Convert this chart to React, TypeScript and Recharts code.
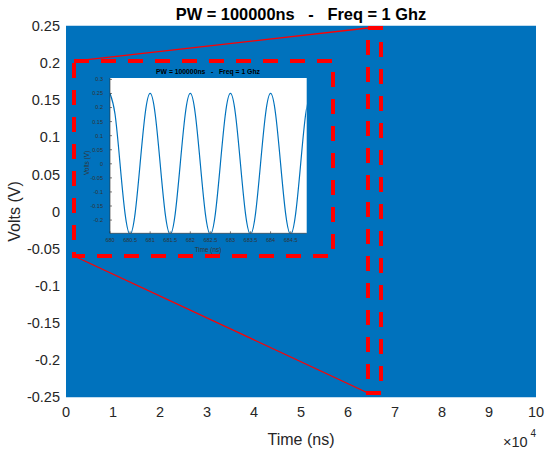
import React from 'react';
import {
  ComposedChart,
  Area,
  Line,
  XAxis,
  YAxis,
  ReferenceArea,
  ReferenceLine,
  CartesianGrid,
} from 'recharts';

// ---------- main chart data ----------
const mainTime = [0, 100000];
const mainLow = [-0.25, -0.25];
const mainHigh = [0.25, 0.25];
const mainXTicks = [0, 10000, 20000, 30000, 40000, 50000, 60000, 70000, 80000, 90000, 100000];
const mainYTicks = [-0.25, -0.2, -0.15, -0.1, -0.05, 0, 0.05, 0.1, 0.15, 0.2, 0.25];

// zoom annotation (data coordinates of main chart)
const sourceBoxX = [64255, 67021];
const sourceBoxY = [-0.2446, 0.2473];
const insetBoxX = [1702, 56809];
const insetBoxY = [-0.06, 0.2028];

// ---------- inset data ----------
const insetTime = [
  680, 680.125, 680.25, 680.375, 680.5, 680.625, 680.75, 680.875,
  681, 681.125, 681.25, 681.375, 681.5, 681.625, 681.75, 681.875,
  682, 682.125, 682.25, 682.375, 682.5, 682.625, 682.75, 682.875,
  683, 683.125, 683.25, 683.375, 683.5, 683.625, 683.75, 683.875,
  684, 684.125, 684.25, 684.375, 684.5, 684.625, 684.75, 684.875,
  685,
];
const insetVolts = [
  0.25, 0.177, 0, -0.177, -0.25, -0.177, 0, 0.177,
  0.25, 0.177, 0, -0.177, -0.25, -0.177, 0, 0.177,
  0.25, 0.177, 0, -0.177, -0.25, -0.177, 0, 0.177,
  0.25, 0.177, 0, -0.177, -0.25, -0.177, 0, 0.177,
  0.25, 0.177, 0, -0.177, -0.25, -0.177, 0, 0.177,
  0.25,
];
const insetXTicks = [680, 680.5, 681, 681.5, 682, 682.5, 683, 683.5, 684, 684.5];
const insetYTicks = [-0.2, -0.15, -0.1, -0.05, 0, 0.05, 0.1, 0.15, 0.2, 0.25, 0.3];

const titleText = 'PW = 100000ns   -   Freq = 1 Ghz';

const mainData = mainTime.map((t, i) => ({ t, band: [mainLow[i], mainHigh[i]] }));
const insetData = insetTime.map((t, i) => ({ t, v: insetVolts[i] }));

const FONT = '"Liberation Sans", Arial, Helvetica, sans-serif';
const BLUE = '#0072BD';
const RED = '#FF0000';
const AX = '#262626';

export default function App() {
  return (
    <div style={{ position: 'absolute', left: 0, top: 0, width: 545, height: 451, background: '#fff', fontFamily: FONT }}>
      <div style={{ position: 'absolute', left: 0, top: 0 }}>
        <ComposedChart width={545} height={451} data={mainData} margin={{ top: 26, right: 9, left: 0, bottom: 0 }}>
          <XAxis
            dataKey="t"
            type="number"
            domain={[0, 100000]}
            ticks={mainXTicks}
            interval={0}
            tickFormatter={(v: number) => String(v / 10000)}
            axisLine={false}
            tickLine={false}
            tickSize={0}
            tickMargin={10}
            height={54}
            tick={{ fontSize: 14.5, fill: AX, fontFamily: FONT }}
          />
          <YAxis
            type="number"
            domain={[-0.25, 0.25]}
            ticks={mainYTicks}
            interval={0}
            tickFormatter={(v: number) => String(Math.round(v * 100) / 100)}
            axisLine={false}
            tickLine={false}
            tickSize={0}
            tickMargin={6}
            width={66}
            tick={{ fontSize: 14.5, fill: AX, fontFamily: FONT }}
          />
          <Area
            dataKey="band"
            type="linear"
            stroke={BLUE}
            strokeWidth={0.5}
            fill={BLUE}
            fillOpacity={1}
            isAnimationActive={false}
            dot={false}
            activeDot={false}
          />
          <ReferenceArea
            x1={insetBoxX[0]}
            x2={insetBoxX[1]}
            y1={insetBoxY[0]}
            y2={insetBoxY[1]}
            fill="none"
            fillOpacity={0}
            stroke={RED}
            strokeWidth={4}
            strokeDasharray="15 12"
          />
          <ReferenceArea
            x1={sourceBoxX[0]}
            x2={sourceBoxX[1]}
            y1={sourceBoxY[0]}
            y2={sourceBoxY[1]}
            fill="none"
            fillOpacity={0}
            stroke={RED}
            strokeWidth={4}
            strokeDasharray="15 12"
          />
          <ReferenceLine
            segment={[
              { x: insetBoxX[0], y: insetBoxY[1] },
              { x: sourceBoxX[0], y: sourceBoxY[1] },
            ]}
            stroke={RED}
            strokeWidth={1.3}
          />
          <ReferenceLine
            segment={[
              { x: insetBoxX[0], y: insetBoxY[0] },
              { x: sourceBoxX[0], y: sourceBoxY[0] },
            ]}
            stroke={RED}
            strokeWidth={1.3}
          />
        </ComposedChart>
      </div>

      {/* inset chart */}
      <div style={{ position: 'absolute', left: 70, top: 60 }}>
        <ComposedChart width={270} height={200} data={insetData} margin={{ top: 18, right: 33.3, left: 0, bottom: 0 }}>
          <CartesianGrid fill="#ffffff" stroke="none" horizontal={false} vertical={false} />
          <XAxis
            dataKey="t"
            type="number"
            domain={[680, 684.9]}
            allowDataOverflow
            ticks={insetXTicks}
            interval={0}
            height={26.7}
            tickSize={-2}
            tickMargin={6.5}
            axisLine={{ stroke: AX, strokeWidth: 0.6 }}
            tickLine={{ stroke: AX, strokeWidth: 0.6 }}
            tick={{ fontSize: 5.5, fill: '#333', fontFamily: FONT }}
          />
          <XAxis
            xAxisId="top"
            orientation="top"
            dataKey="t"
            type="number"
            domain={[680, 684.9]}
            allowDataOverflow
            ticks={insetXTicks}
            interval={0}
            height={0}
            tickSize={-2}
            axisLine={{ stroke: AX, strokeWidth: 0.6 }}
            tickLine={{ stroke: AX, strokeWidth: 0.6 }}
            tick={false}
          />
          <YAxis
            type="number"
            domain={[-0.247, 0.305]}
            allowDataOverflow
            ticks={insetYTicks}
            interval={0}
            width={40}
            tickSize={-2}
            tickMargin={9}
            tickFormatter={(v: number) => String(Math.round(v * 100) / 100)}
            axisLine={{ stroke: AX, strokeWidth: 0.6 }}
            tickLine={{ stroke: AX, strokeWidth: 0.6 }}
            tick={{ fontSize: 5.5, fill: '#333', fontFamily: FONT }}
          />
          <YAxis
            yAxisId="right"
            orientation="right"
            type="number"
            domain={[-0.247, 0.305]}
            allowDataOverflow
            ticks={insetYTicks}
            interval={0}
            width={0}
            tickSize={-2}
            axisLine={{ stroke: AX, strokeWidth: 0.6 }}
            tickLine={{ stroke: AX, strokeWidth: 0.6 }}
            tick={false}
          />
          <Line
            dataKey="v"
            type="natural"
            stroke={BLUE}
            strokeWidth={1.2}
            dot={false}
            activeDot={false}
            isAnimationActive={false}
          />
        </ComposedChart>
      </div>

      {/* titles and axis labels */}
      <svg width={545} height={451} style={{ position: 'absolute', left: 0, top: 0, pointerEvents: 'none' }}>
        <text x={301} y={20} textAnchor="middle" fontSize={16.4} fontWeight="bold" fill="#000" fontFamily={FONT} style={{ whiteSpace: 'pre' }}>
          {titleText}
        </text>
        <text x={301} y={445} textAnchor="middle" fontSize={16} fill={AX} fontFamily={FONT}>
          Time (ns)
        </text>
        <text x={19.5} y={211.5} textAnchor="middle" fontSize={16} fill={AX} fontFamily={FONT} transform="rotate(-90 19.5 211.5)">
          Volts (V)
        </text>
        <text x={503} y={447} fontSize={14.5} fill={AX} fontFamily={FONT}>
          ×10
        </text>
        <text x={530.5} y={437} fontSize={10} fill={AX} fontFamily={FONT}>
          4
        </text>

        {/* inset texts */}
        <text x={208} y={74} textAnchor="middle" fontSize={6.8} fontWeight="bold" fill="#000" fontFamily={FONT} style={{ whiteSpace: 'pre' }}>
          {titleText}
        </text>
        <text x={208} y={251.5} textAnchor="middle" fontSize={6.4} fill="#333" fontFamily={FONT}>
          Time (ns)
        </text>
        <text x={89} y={163} textAnchor="middle" fontSize={6.4} fill="#333" fontFamily={FONT} transform="rotate(-90 89 163)">
          Volts (V)
        </text>
      </svg>
    </div>
  );
}
